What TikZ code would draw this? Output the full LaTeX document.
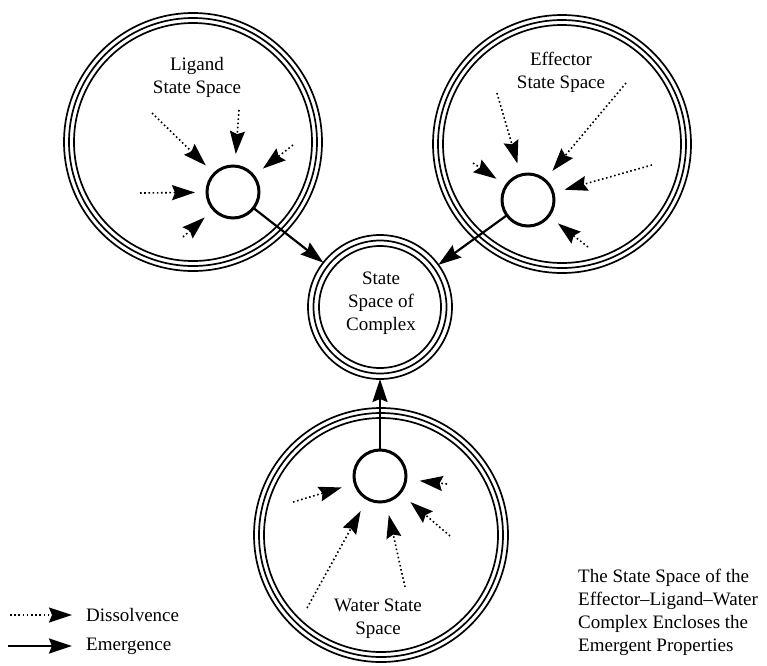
\documentclass[tikz,border=0pt]{standalone}
\usepackage{fontspec}
\setmainfont{Liberation Serif}
\usetikzlibrary{arrows.meta}
\begin{document}
\begin{tikzpicture}[x=1pt,y=-1pt,
  ring/.style={circle,draw,line width=1.7pt,inner sep=0pt,outer sep=0pt},
  innerring/.style={line width=1.7pt},
  core/.style={circle,draw,line width=3pt,inner sep=0pt,outer sep=0pt,minimum size=52pt},
  lbl/.style={align=center,inner sep=0pt,font=\fontsize{19}{23}\selectfont},
  headtip/.style={-{Stealth[length=23pt,width=15pt,inset=3pt]}},
  dissolve/.style={line width=1.6pt,dash pattern=on 1.6pt off 2.6pt,headtip},
  emerge/.style={line width=2.2pt,headtip},
  tocore/.style={shorten >=12pt}
]
\useasboundingbox (0,0) rectangle (767,665);

% big triple rings
\node[ring,minimum size=258pt] (lig) at (193,142) {};
\draw[innerring] (lig.center) circle[radius=124pt];
\draw[innerring] (lig.center) circle[radius=119pt];
\node[ring,minimum size=258pt] (eff) at (562,144) {};
\draw[innerring] (eff.center) circle[radius=124pt];
\draw[innerring] (eff.center) circle[radius=119pt];
\node[ring,minimum size=254pt] (wat) at (381,535) {};
\draw[innerring] (wat.center) circle[radius=122pt];
\draw[innerring] (wat.center) circle[radius=117pt];
\node[ring,minimum size=144pt] (cc) at (380,307) {};
\draw[innerring] (cc.center) circle[radius=66.5pt];
\draw[innerring] (cc.center) circle[radius=61pt];

% labels
\node[lbl] (ligl) at (197,77) {Ligand\\State Space};
\node[lbl] (effl) at (561,72) {Effector\\State Space};
\node[lbl] (ccl) at (381,303) {State\\Space of\\Complex};
\node[lbl] (watl) at (378,619) {Water State\\Space};
\node[lbl,align=left,anchor=west] (note) at (578,612) {The State Space of the\\Effector--Ligand--Water\\Complex Encloses the\\Emergent Properties};

% small cores
\node[core] (ls) at (233,192) {};
\node[core] (es) at (528,200) {};
\node[core] (ws) at (380,476) {};

% emergence
\draw[emerge] (ls) -- (cc);
\draw[emerge] (es) -- (cc);
\draw[emerge] (ws) -- (cc);

% dissolvence, ligand
\coordinate (l1) at (152,113);
\coordinate (l2) at (239,110);
\coordinate (l3) at (293,145);
\coordinate (l4) at (140,193);
\coordinate (l5) at (183,237);
\foreach \p in {l1,l2,l3,l4,l5} \draw[dissolve,tocore] (\p) -- (ls);
% effector
\coordinate (e1) at (497,93);
\coordinate (e2) at (626,83);
\coordinate (e3) at (473,163);
\coordinate (e4) at (652,165);
\coordinate (e5) at (588,247);
\foreach \p in {e1,e2,e3,e4,e5} \draw[dissolve,tocore] (\p) -- (es);
% water
\coordinate (w1) at (293,502);
\coordinate (w2) at (307,608);
\coordinate (w3) at (405,587);
\coordinate (w4) at (450,536);
\coordinate (w5) at (447,484);
\foreach \p in {w1,w2,w3,w4,w5} \draw[dissolve,shorten >=14pt] (\p) -- (ws);

% legend
\coordinate (d0) at (10,615);
\node[lbl,anchor=west] (dl) at (86,615) {Dissolvence};
\draw[dissolve,shorten >=14pt] (d0) -- (dl.west);
\coordinate (m0) at (8,646);
\node[lbl,anchor=west] (ml) at (86,646) {Emergence};
\draw[emerge,shorten >=14pt] (m0) -- (ml.west);
\end{tikzpicture}
\end{document}
